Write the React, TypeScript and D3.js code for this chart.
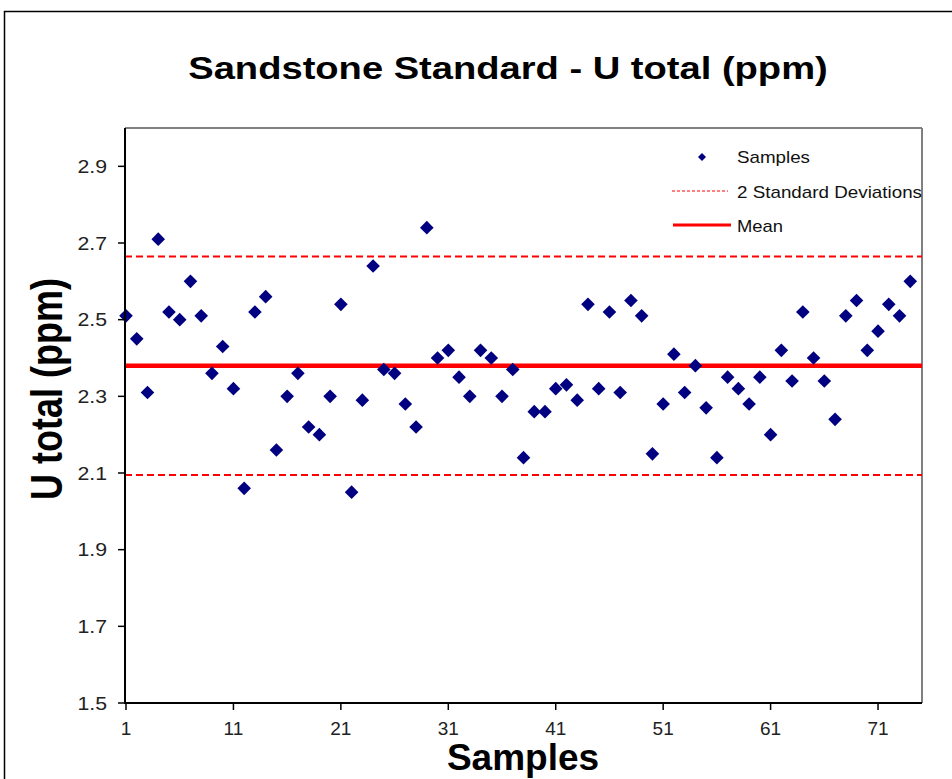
import React from "react";
import * as d3 from "d3";

const samples: number[] = [
  2.51, 2.45, 2.31, 2.71, 2.52, 2.5, 2.6, 2.51, 2.36, 2.43,
  2.32, 2.06, 2.52, 2.56, 2.16, 2.3, 2.36, 2.22, 2.2, 2.3,
  2.54, 2.05, 2.29, 2.64, 2.37, 2.36, 2.28, 2.22, 2.74, 2.4,
  2.42, 2.35, 2.3, 2.42, 2.4, 2.3, 2.37, 2.14, 2.26, 2.26,
  2.32, 2.33, 2.29, 2.54, 2.32, 2.52, 2.31, 2.55, 2.51, 2.15,
  2.28, 2.41, 2.31, 2.38, 2.27, 2.14, 2.35, 2.32, 2.28, 2.35,
  2.2, 2.42, 2.34, 2.52, 2.4, 2.34, 2.24, 2.51, 2.55, 2.42,
  2.47, 2.54, 2.51, 2.6,
];
const meanValue = 2.38;
const upperLimit = 2.665;
const lowerLimit = 2.095;
const xTicks: number[] = [1, 11, 21, 31, 41, 51, 61, 71];
const yTicks: number[] = [1.5, 1.7, 1.9, 2.1, 2.3, 2.5, 2.7, 2.9];
const legendLabels: string[] = ["Samples", "2 Standard Deviations", "Mean"];

const W = 952;
const H = 779;
const left = 125;
const right = 922;
const top = 128;
const bottom = 703;

function diamondPath(r: number): string {
  const p = d3.path();
  p.moveTo(0, -r);
  p.lineTo(r, 0);
  p.lineTo(0, r);
  p.lineTo(-r, 0);
  p.closePath();
  return p.toString();
}

export default function App() {
  const x = d3.scaleLinear().domain([1, 75]).range([left + 1, right - 1]);
  const y = d3.scaleLinear().domain([1.5, 3.0]).range([bottom, top]);
  const diamond = diamondPath(6.8);
  const font = "Liberation Sans, Arial, sans-serif";
  return (
    <svg
      width={W}
      height={H}
      style={{ position: "absolute", left: 0, top: 0, background: "#fff" }}
      fontFamily={font}
    >
      <rect x={4.5} y={11.5} width={W + 10} height={H + 10} fill="#fff" stroke="#000" strokeWidth={1.5} />
      <text
        transform="translate(508,78.5) scale(1.23,1)"
        textAnchor="middle"
        fontSize={31}
        fontWeight="bold"
        fill="#000"
      >
        Sandstone Standard - U total (ppm)
      </text>
      {/* plot area border */}
      <line x1={left} x2={right} y1={top} y2={top} stroke="#808080" strokeWidth={2} />
      <line x1={right} x2={right} y1={top} y2={bottom} stroke="#808080" strokeWidth={2} />
      {/* limit lines */}
      <line x1={left} x2={right} y1={y(upperLimit)} y2={y(upperLimit)} stroke="#ff0000" strokeWidth={2} strokeDasharray="7,4" />
      <line x1={left} x2={right} y1={y(lowerLimit)} y2={y(lowerLimit)} stroke="#ff0000" strokeWidth={2} strokeDasharray="7,4" />
      <line x1={left} x2={right} y1={y(meanValue)} y2={y(meanValue)} stroke="#ff0000" strokeWidth={4.5} />
      {/* points */}
      {samples.map((v, i) => (
        <path key={i} d={diamond} transform={`translate(${x(i + 1)},${y(v)})`} fill="#000080" />
      ))}
      {/* axes */}
      <line x1={left} x2={left} y1={top} y2={bottom + 1} stroke="#000" strokeWidth={2} />
      <line x1={left} x2={right} y1={bottom} y2={bottom} stroke="#000" strokeWidth={2} />
      {yTicks.map((t) => (
        <g key={t}>
          <line x1={left - 7} x2={left} y1={y(t)} y2={y(t)} stroke="#000" strokeWidth={1.5} />
          <text
            transform={`translate(107,${y(t) + 6.5}) scale(1.12,1)`}
            textAnchor="end"
            fontSize={19}
            fill="#222"
          >
            {t.toFixed(1)}
          </text>
        </g>
      ))}
      {xTicks.map((t) => (
        <g key={t}>
          <line x1={x(t)} x2={x(t)} y1={bottom} y2={bottom + 7} stroke="#000" strokeWidth={1.5} />
          <text x={x(t)} y={735} textAnchor="middle" fontSize={19} fill="#222">
            {t}
          </text>
        </g>
      ))}
      <text
        transform={`translate(62,389) scale(1.18,1) rotate(-90)`}
        textAnchor="middle"
        fontSize={37}
        fontWeight="bold"
        fill="#000"
        textLength={222}
        lengthAdjust="spacingAndGlyphs"
      >
        U total (ppm)
      </text>
      <text x={523} y={770} textAnchor="middle" fontSize={37} fontWeight="bold" fill="#000">
        Samples
      </text>
      {/* legend */}
      <path d={diamondPath(4)} transform="translate(702,157)" fill="#000080" />
      <text x={737} y={163} fontSize={17} fill="#111" textLength={73} lengthAdjust="spacingAndGlyphs">{legendLabels[0]}</text>
      <line x1={672} x2={728} y1={191} y2={191} stroke="#ff0000" strokeWidth={1} strokeDasharray="3,2" />
      <text x={737} y={197.5} fontSize={17} fill="#111" textLength={185} lengthAdjust="spacingAndGlyphs">{legendLabels[1]}</text>
      <line x1={673} x2={731} y1={225} y2={225} stroke="#ff0000" strokeWidth={3} />
      <text x={737} y={232} fontSize={17} fill="#111" textLength={46} lengthAdjust="spacingAndGlyphs">{legendLabels[2]}</text>
    </svg>
  );
}
